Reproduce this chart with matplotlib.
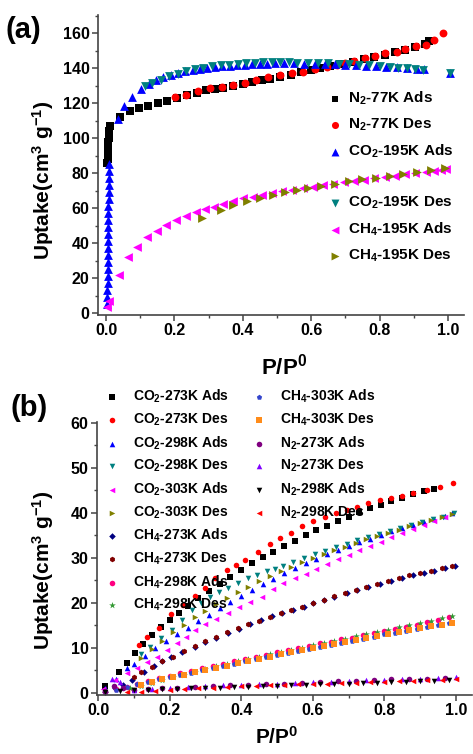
import numpy as np
import matplotlib.pyplot as plt
from matplotlib.ticker import MultipleLocator

plt.rcParams['font.family'] = ['Liberation Sans', 'DejaVu Sans']
plt.rcParams['font.weight'] = 'bold'
plt.rcParams['mathtext.fontset'] = 'custom'
plt.rcParams['mathtext.bf'] = 'Liberation Sans:bold'
plt.rcParams['mathtext.rm'] = 'Liberation Sans:bold'
plt.rcParams['mathtext.default'] = 'bf'

# ---------------- panel (a) data ----------------
n2_77_ads_x = [0.004, 0.005, 0.005, 0.006, 0.006, 0.007, 0.007, 0.008, 0.009, 0.010, 0.012,
               0.041, 0.070, 0.097, 0.124, 0.151, 0.178, 0.207, 0.236, 0.265, 0.292, 0.320,
               0.343, 0.372, 0.400, 0.428, 0.455, 0.480, 0.510, 0.540, 0.570, 0.600, 0.626,
               0.655, 0.685, 0.723, 0.755, 0.785, 0.815, 0.845, 0.874, 0.905, 0.933, 0.945]
n2_77_ads_y = [86, 88, 90, 92, 94, 96, 98, 100, 102, 104, 107,
               112.2, 115.6, 117.3, 118.5, 119.8, 121.3, 122.8, 124.6, 126, 127.4, 128.0,
               128.6, 129.8, 131, 132, 133, 134, 135, 136.3, 137.8, 139, 139.8,
               141, 142.3, 143.6, 145, 146.2, 147.6, 149, 150.5, 152, 153.7, 155.5]

n2_77_des_x = [0.986, 0.959, 0.935, 0.908, 0.874, 0.850, 0.816, 0.787, 0.757, 0.725, 0.700,
               0.675, 0.645, 0.610, 0.577, 0.543, 0.509, 0.475, 0.440, 0.406, 0.372, 0.338,
               0.304, 0.268, 0.233, 0.202]
n2_77_des_y = [159.8, 156, 153, 152.6, 150.7, 149.3, 148.4, 147, 145.5, 144, 142.8,
               141.7, 140.5, 139.2, 137.9, 137.3, 136, 134.7, 133, 131.6, 130.3, 129.3,
               128.4, 127, 124.4, 123.2]

co2_195_ads_x = [0.003, 0.004, 0.004, 0.005, 0.005, 0.005, 0.005, 0.006, 0.006, 0.006, 0.006,
                 0.007, 0.007, 0.007, 0.007, 0.008, 0.008, 0.008, 0.009, 0.009, 0.010,
                 0.036, 0.054, 0.077, 0.101, 0.125, 0.146, 0.168, 0.19, 0.21, 0.232, 0.253,
                 0.275, 0.296, 0.318, 0.34, 0.362, 0.384, 0.406, 0.428, 0.45, 0.472, 0.494,
                 0.52, 0.55, 0.58, 0.61, 0.64, 0.67, 0.70, 0.73, 0.76, 0.79, 0.82, 0.85,
                 0.88, 0.91, 0.93, 1.006]
co2_195_ads_y = [5, 9, 13, 17, 21, 25, 29, 33, 37, 41, 45,
                 49, 53, 57, 61, 65, 69, 73, 77, 81, 85,
                 110.7, 118.3, 123.2, 127.8, 131, 133, 134.8, 136.2, 137.4, 138.3, 139,
                 139.6, 140.1, 140.6, 141, 141.3, 141.6, 141.9, 142.1, 142.3, 142.5, 142.6,
                 142.6, 142.6, 142.5, 142.4, 142.3, 142.1, 141.9, 141.6, 141.4, 141.1, 140.8, 140.5,
                 140.1, 139.6, 139.2, 137.3]

co2_195_des_x = [1.006, 0.928, 0.905, 0.88, 0.855, 0.83, 0.80, 0.77, 0.74, 0.71, 0.68, 0.65,
                 0.62, 0.59, 0.56, 0.535, 0.51, 0.485, 0.46, 0.435, 0.41, 0.385, 0.36, 0.335,
                 0.31, 0.285, 0.26, 0.235, 0.21, 0.185, 0.16, 0.135, 0.114]
co2_195_des_y = [137.3, 138.9, 139.4, 139.8, 140.3, 140.6, 141, 141.5, 141.8, 142.1, 142.4, 142.6,
                 142.8, 143, 143.1, 143.2, 143.3, 143.3, 143.2, 143, 142.8, 142.5, 142, 141.5,
                 140.9, 140.2, 139.3, 138.2, 136.8, 135.2, 133.4, 131.3, 130]

ch4_195_ads_x = [0.002, 0.009, 0.038, 0.065, 0.09, 0.121, 0.148, 0.175, 0.205, 0.233, 0.262,
                 0.289, 0.317, 0.343, 0.37, 0.401, 0.43, 0.455, 0.485, 0.514, 0.543, 0.575,
                 0.605, 0.635, 0.665, 0.695, 0.725, 0.755, 0.785, 0.815, 0.845, 0.875, 0.905,
                 0.935, 0.96, 0.98, 0.995]
ch4_195_ads_y = [3.6, 7, 22, 32.2, 37.5, 43.2, 47, 50.3, 53.1, 55.4, 57.9,
                 59.2, 60.7, 62.3, 63.8, 65.5, 66.5, 67.4, 68.8, 69.9, 70.6, 71.5,
                 72.3, 73.2, 74, 74.8, 75.5, 76.3, 77.1, 77.8, 78.5, 79.2, 80,
                 80.8, 81.4, 81.9, 82.5]

ch4_195_des_x = [0.99, 0.95, 0.91, 0.87, 0.83, 0.79, 0.75, 0.71, 0.67, 0.63, 0.59, 0.56,
                 0.523, 0.487, 0.45, 0.411, 0.372, 0.336, 0.28]
ch4_195_des_y = [82.7, 81.6, 80.5, 79.5, 78.4, 77.4, 76.4, 75.2, 74, 72.8, 71.6, 70.4,
                 69, 67.4, 65.5, 64.2, 61.7, 58.9, 54.1]

# ---------------- panel (b) data ----------------
co2_273_ads_x = [0.02, 0.059, 0.08, 0.103, 0.125, 0.15, 0.175, 0.2, 0.225, 0.25, 0.28, 0.31,
                 0.34, 0.37, 0.4, 0.43, 0.46, 0.49, 0.52, 0.55, 0.58, 0.61, 0.64, 0.67, 0.70,
                 0.73, 0.76, 0.79, 0.82, 0.85, 0.88, 0.91, 0.94]
co2_273_ads_y = [1.5, 4.7, 6.6, 8.9, 10.8, 12.8, 14.6, 16.2, 17.8, 19.3, 21, 22.6,
                 24.2, 25.8, 27.3, 28.8, 30.1, 31.4, 32.6, 33.8, 35, 36.1, 37.2, 38.2, 39.2,
                 40.1, 41, 41.8, 42.6, 43.4, 44.1, 44.8, 45.4]

co2_273_des_x = [0.991, 0.955, 0.92, 0.88, 0.85, 0.82, 0.788, 0.755, 0.725, 0.695, 0.665, 0.635,
                 0.601, 0.57, 0.54, 0.508, 0.48, 0.448, 0.41, 0.385, 0.36, 0.327, 0.299, 0.27,
                 0.238, 0.204, 0.17, 0.136, 0.113]
co2_273_des_y = [46.6, 45.8, 45.1, 44.4, 43.8, 43.3, 42.9, 42.1, 41.4, 40.7, 39.9, 39,
                 38.1, 37, 35.6, 34.4, 33.1, 31.4, 29.6, 28.4, 27.3, 25.5, 23.3, 21.5,
                 19.6, 17.6, 14.5, 12.5, 10.7]

co2_298_ads_x = [0.02, 0.05, 0.08, 0.1, 0.13, 0.16, 0.19, 0.22, 0.25, 0.28, 0.31, 0.34, 0.37,
                 0.4, 0.43, 0.46, 0.49, 0.52, 0.55, 0.58, 0.61, 0.64, 0.67, 0.7, 0.73, 0.76,
                 0.79, 0.82, 0.85, 0.88, 0.91, 0.94, 0.97, 0.99]
co2_298_ads_y = [1, 3, 5.5, 6.5, 8.3, 10, 11.6, 13.1, 14.5, 15.9, 17.3, 18.8, 20.2,
                 21.6, 22.9, 24.2, 25.4, 26.6, 27.7, 28.8, 29.8, 30.8, 31.7, 32.6, 33.5, 34.3,
                 35.1, 35.9, 36.6, 37.3, 38, 38.7, 39.3, 39.9]

co2_298_des_x = [0.995, 0.965, 0.935, 0.905, 0.875, 0.845, 0.815, 0.785, 0.755, 0.725, 0.695,
                 0.665, 0.635, 0.605, 0.575, 0.545, 0.518, 0.495, 0.471, 0.445, 0.42, 0.392,
                 0.364, 0.338, 0.313, 0.288, 0.262, 0.234, 0.206, 0.175, 0.145, 0.12]
co2_298_des_y = [39.9, 39.2, 38.6, 38, 37.3, 36.6, 36, 35.3, 34.6, 33.9, 33.2,
                 32.4, 31.6, 30.8, 30, 29.1, 28.2, 27.6, 27, 26.3, 25.5, 24.4,
                 23.3, 22.4, 21.4, 20, 18.4, 16.3, 14, 12.2, 10.3, 8.6]

co2_303_ads_x = [0.015, 0.047, 0.08, 0.11, 0.137, 0.164, 0.192, 0.22, 0.245, 0.271, 0.3, 0.33,
                 0.364, 0.395, 0.425, 0.457, 0.488, 0.518, 0.55, 0.58, 0.61, 0.64, 0.67, 0.7,
                 0.73, 0.76, 0.79, 0.82, 0.85, 0.88, 0.91, 0.94, 0.97]
co2_303_ads_y = [0.8, 2.9, 4.5, 5.5, 6.8, 8.1, 9.6, 11, 12.5, 14, 15.3, 16.5,
                 17.7, 19, 20.2, 21.4, 23, 24.5, 25.5, 26.5, 27.6, 28.6, 29.7, 30.7,
                 31.7, 32.7, 33.6, 34.6, 35.5, 36.5, 37.4, 38.3, 39.2]

co2_303_des_x = [0.99, 0.96, 0.93, 0.9, 0.87, 0.84, 0.81, 0.78, 0.75, 0.72, 0.69, 0.66, 0.63,
                 0.6, 0.57, 0.54, 0.51, 0.48, 0.45, 0.42, 0.39, 0.36, 0.33, 0.3, 0.27, 0.24,
                 0.21, 0.18, 0.15, 0.12]
co2_303_des_y = [39.8, 39.1, 38.4, 37.7, 37, 36.3, 35.6, 34.9, 34.1, 33.3, 32.5, 31.7, 30.8,
                 29.9, 29, 28, 27, 25.9, 24.8, 23.6, 22.4, 21.1, 19.8, 18.3, 16.8, 15.2,
                 13.5, 11.6, 9.7, 7.7]

ch4_273_ads_x = [0.02, 0.047, 0.07, 0.094, 0.127, 0.155, 0.178, 0.205, 0.235, 0.271, 0.3, 0.33,
                 0.364, 0.395, 0.425, 0.455, 0.485, 0.513, 0.545, 0.575, 0.601, 0.63, 0.66,
                 0.695, 0.725, 0.755, 0.788, 0.82, 0.85, 0.88, 0.91, 0.94, 0.97, 0.997]
ch4_273_ads_y = [0.3, 1.0, 1.8, 2.8, 4.7, 6.0, 7.1, 8.0, 9.0, 10.3, 11.3, 12.2,
                 13.3, 14.3, 15.3, 16.2, 17, 17.8, 18.5, 19.2, 19.9, 20.6, 21.3,
                 22.1, 22.8, 23.6, 24.3, 24.9, 25.5, 26.1, 26.7, 27.2, 27.7, 28.2]

ch4_273_des_x = [0.99, 0.96, 0.93, 0.9, 0.87, 0.84, 0.81, 0.78, 0.75, 0.72, 0.69, 0.66, 0.63,
                 0.6, 0.57, 0.54, 0.51, 0.48, 0.45, 0.42, 0.39, 0.36, 0.33, 0.3, 0.27, 0.24,
                 0.21, 0.18, 0.15, 0.12, 0.1]
ch4_273_des_y = [28.3, 27.8, 27.2, 26.6, 26.1, 25.5, 24.9, 24.2, 23.6, 22.9, 22.2, 21.5, 20.7,
                 20, 19.2, 18.4, 17.7, 16.9, 16.1, 15.3, 14.4, 13.5, 12.5, 11.5, 10.4, 9.3,
                 8.1, 7.0, 5.8, 4.6, 3.6]

ch4_298_ads_x = [0.02, 0.05, 0.08, 0.11, 0.14, 0.17, 0.2, 0.23, 0.26, 0.29, 0.32, 0.35, 0.38,
                 0.41, 0.44, 0.47, 0.5, 0.53, 0.56, 0.59, 0.62, 0.65, 0.68, 0.71, 0.74, 0.77,
                 0.8, 0.83, 0.86, 0.89, 0.92, 0.95, 0.98]
ch4_298_ads_y = [0.3, 0.8, 1.4, 2.1, 2.7, 3.3, 3.8, 4.4, 4.9, 5.5, 6, 6.5, 7,
                 7.5, 8, 8.5, 9.1, 9.5, 10, 10.5, 11, 11.4, 11.9, 12.3, 12.8, 13.3,
                 13.8, 14.2, 14.7, 15.2, 15.7, 16.2, 16.8]

ch4_298_des_x = [0.99, 0.96, 0.93, 0.9, 0.87, 0.84, 0.81, 0.78, 0.75, 0.72, 0.69, 0.66, 0.63,
                 0.6, 0.57, 0.54, 0.51, 0.48, 0.45, 0.42, 0.39, 0.36, 0.33, 0.3, 0.27, 0.24,
                 0.21, 0.18, 0.15, 0.12, 0.09]
ch4_298_des_y = [17.1, 16.6, 16.1, 15.6, 15.1, 14.6, 14.1, 13.6, 13.1, 12.6, 12.1, 11.6, 11.1,
                 10.6, 10.1, 9.6, 9.1, 8.6, 8.1, 7.6, 7, 6.5, 5.9, 5.3, 4.7, 4.1,
                 3.5, 2.9, 2.3, 1.6, 1]

ch4_303_ads_x = [0.02, 0.05, 0.08, 0.11, 0.14, 0.17, 0.2, 0.23, 0.26, 0.29, 0.32, 0.35, 0.38,
                 0.41, 0.44, 0.47, 0.5, 0.53, 0.56, 0.59, 0.62, 0.65, 0.68, 0.71, 0.74, 0.77,
                 0.8, 0.83, 0.86, 0.89, 0.92, 0.95, 0.98]
ch4_303_ads_y = [0.2, 0.7, 1.3, 1.9, 2.5, 3, 3.5, 4, 4.5, 5, 5.5, 6, 6.5,
                 7, 7.5, 8, 8.5, 8.9, 9.4, 9.8, 10.3, 10.7, 11.2, 11.6, 12.1, 12.5,
                 13, 13.4, 13.8, 14.3, 14.7, 15.1, 15.5]

ch4_303_des_x = [0.99, 0.96, 0.93, 0.9, 0.87, 0.84, 0.81, 0.78, 0.75, 0.72, 0.69, 0.66, 0.63,
                 0.6, 0.57, 0.54, 0.51, 0.48, 0.45, 0.42, 0.39, 0.36, 0.33, 0.3, 0.27, 0.24,
                 0.21, 0.18, 0.15, 0.12]
ch4_303_des_y = [15.6, 15.2, 14.8, 14.4, 13.9, 13.5, 13.1, 12.6, 12.2, 11.7, 11.3, 10.8, 10.4,
                 9.9, 9.5, 9, 8.6, 8.1, 7.6, 7.1, 6.6, 6.1, 5.6, 5.1, 4.6, 4.1,
                 3.6, 3, 2.4, 1.8]

n2_273_ads_x = [0.02, 0.045, 0.07, 0.1, 0.14, 0.18, 0.22, 0.27, 0.32, 0.37, 0.42, 0.47, 0.52,
                0.57, 0.62, 0.67, 0.72, 0.77, 0.82, 0.87, 0.92, 0.97]
n2_273_ads_y = [0.5, 1.5, 1, 0.6, 0.8, 1, 1.2, 1.4, 1.5, 1.7, 1.8, 2, 2.1,
                2.3, 2.4, 2.6, 2.7, 2.9, 3, 3.1, 3.2, 3.4]

n2_273_des_x = [1.0, 0.95, 0.9, 0.85, 0.8, 0.75, 0.7, 0.65, 0.6, 0.55, 0.5, 0.45, 0.4, 0.35,
                0.3, 0.25, 0.2, 0.15, 0.1, 0.06, 0.04]
n2_273_des_y = [3.5, 3.3, 3.2, 3, 2.9, 2.8, 2.6, 2.5, 2.4, 2.3, 2.1, 2, 1.8, 1.7,
                1.5, 1.3, 1.1, 0.9, 0.7, 2.5, 3]

n2_298_ads_x = [0.02, 0.06, 0.1, 0.14, 0.18, 0.22, 0.26, 0.3, 0.34, 0.38, 0.42, 0.46, 0.5,
                0.54, 0.58, 0.62, 0.66, 0.7, 0.74, 0.78, 0.82, 0.86, 0.9, 0.94, 0.98]
n2_298_ads_y = [0.3, 0.4, 0.6, 0.7, 0.8, 0.9, 1, 1.1, 1.2, 1.3, 1.4, 1.5, 1.6,
                1.7, 1.8, 1.9, 2, 2.1, 2.2, 2.3, 2.4, 2.5, 2.6, 2.7, 2.8]

n2_298_des_x = [1.0, 0.96, 0.92, 0.88, 0.84, 0.8, 0.76, 0.72, 0.68, 0.64, 0.6, 0.56, 0.52,
                0.48, 0.44, 0.4, 0.36, 0.32, 0.28, 0.24, 0.2, 0.16, 0.12, 0.08]
n2_298_des_y = [3, 2.9, 2.8, 2.7, 2.6, 2.5, 2.4, 2.3, 2.2, 2.1, 2, 1.9, 1.8,
                1.7, 1.6, 1.5, 1.3, 1.2, 1.1, 0.9, 0.7, 0.5, 0.3, 0.2]


W, H = 473, 754
fig = plt.figure(figsize=(W / 100, H / 100), dpi=100)


def style_axes(ax):
    for s in ['top', 'right']:
        ax.spines[s].set_visible(False)
    for s in ['left', 'bottom']:
        ax.spines[s].set_color('#444444')
        ax.spines[s].set_linewidth(1.2)
    ax.tick_params(which='major', direction='out', length=4, width=1.1,
                   color='#444444', labelsize=11.5, pad=2)
    ax.tick_params(which='minor', direction='out', length=2.5, width=1.0, color='#444444')
    for lab in ax.get_xticklabels() + ax.get_yticklabels():
        lab.set_fontweight('bold')
    ax.xaxis.set_major_locator(MultipleLocator(0.2))
    ax.xaxis.set_minor_locator(MultipleLocator(0.1))
    ax.xaxis.set_major_formatter(plt.FuncFormatter(lambda v, p: f'{v:.1f}'))


ylab = r'Uptake(cm$^3$ g$^{-1}$)'

# ---------------- panel (a) ----------------
ax_a = fig.add_axes([98 / W, 1 - 315 / H, (464 - 98) / W, (315 - 15) / H])
sa = 26
ax_a.scatter(n2_77_ads_x, n2_77_ads_y, marker='s', s=sa, color='black', lw=0, label=r'N$_2$-77K Ads')
ax_a.scatter(n2_77_des_x, n2_77_des_y, marker='o', s=sa + 6, color='#FF0000', lw=0, label=r'N$_2$-77K Des')
ax_a.scatter(co2_195_ads_x, co2_195_ads_y, marker='^', s=sa + 14, color='#0000FF', lw=0, label=r'CO$_2$-195K Ads')
ax_a.scatter(co2_195_des_x, co2_195_des_y, marker='v', s=sa + 14, color='#008080', lw=0, label=r'CO$_2$-195K Des')
ax_a.scatter(ch4_195_ads_x, ch4_195_ads_y, marker='<', s=sa + 14, color='#FF00FF', lw=0, label=r'CH$_4$-195K Ads')
ax_a.scatter(ch4_195_des_x, ch4_195_des_y, marker='>', s=sa + 14, color='#808000', lw=0, label=r'CH$_4$-195K Des')
ax_a.set_xlim(-0.0234, 1.047)
ax_a.set_ylim(-1.1, 170.3)
ax_a.yaxis.set_major_locator(MultipleLocator(20))
ax_a.yaxis.set_minor_locator(MultipleLocator(10))
style_axes(ax_a)
ax_a.set_xlabel(r'P/P$^0$', fontsize=16, fontweight='bold')
ax_a.xaxis.set_label_coords((284 - 98) / 366, -(367 - 315) / 300)
ax_a.xaxis.label.set_va('center')
ax_a.set_ylabel(ylab, fontsize=15, fontweight='bold')
ax_a.yaxis.set_label_coords(-(98 - 43) / 366, (315 - 180) / 300)
ax_a.yaxis.label.set_va('center')

h, l = ax_a.get_legend_handles_labels()
leg_kw = dict(frameon=False, handlelength=0.6, handletextpad=0.6,
              borderpad=0, borderaxespad=0, labelspacing=0.62, markerscale=0.9,
              prop={'weight': 'bold', 'size': 11})
fig.legend(h[:3], l[:3], loc='upper left', bbox_to_anchor=(330 / W, 1 - 90 / H), **leg_kw)
fig.legend(h[3:], l[3:], loc='upper left', bbox_to_anchor=(330 / W, 1 - 195 / H), **leg_kw)

fig.text(5 / W, 1 - 30 / H, '(a)', fontsize=21, fontweight='bold', va='center', ha='left')

# ---------------- panel (b) ----------------
ax_b = fig.add_axes([97 / W, 1 - 695 / H, (472 - 97) / W, (695 - 422) / H])
sb = 16
series_b = [
    (co2_273_ads_x, co2_273_ads_y, 's', 'black', r'CO$_2$-273K Ads'),
    (co2_273_des_x, co2_273_des_y, 'o', '#FF0000', r'CO$_2$-273K Des'),
    (co2_298_ads_x, co2_298_ads_y, '^', '#0000FF', r'CO$_2$-298K Ads'),
    (co2_298_des_x, co2_298_des_y, 'v', '#008080', r'CO$_2$-298K Des'),
    (co2_303_ads_x, co2_303_ads_y, '<', '#FF00FF', r'CO$_2$-303K Ads'),
    (co2_303_des_x, co2_303_des_y, '>', '#808000', r'CO$_2$-303K Des'),
    (ch4_273_ads_x, ch4_273_ads_y, 'D', '#000080', r'CH$_4$-273K Ads'),
    (ch4_273_des_x, ch4_273_des_y, 'h', '#800000', r'CH$_4$-273K Des'),
    (ch4_298_ads_x, ch4_298_ads_y, 'o', '#FF0080', r'CH$_4$-298K Ads'),
    (ch4_298_des_x, ch4_298_des_y, '*', '#339933', r'CH$_4$-298K Des'),
    (ch4_303_ads_x, ch4_303_ads_y, 'p', '#3344CC', r'CH$_4$-303K Ads'),
    (ch4_303_des_x, ch4_303_des_y, 's', '#FF8C1A', r'CH$_4$-303K Des'),
    (n2_273_ads_x, n2_273_ads_y, 'o', '#800080', r'N$_2$-273K Ads'),
    (n2_273_des_x, n2_273_des_y, '^', '#8000FF', r'N$_2$-273K Des'),
    (n2_298_ads_x, n2_298_ads_y, 'v', 'black', r'N$_2$-298K Ads'),
    (n2_298_des_x, n2_298_des_y, '<', '#FF0000', r'N$_2$-298K Des'),
]
for x, y, m, c, lab in series_b:
    size = sb * 0.7 if m == 'D' else (sb * 1.6 if m == '*' else sb)
    ax_b.scatter(x, y, marker=m, s=size, color=c, lw=0, label=lab)
ax_b.set_xlim(-0.003, 1.045)
ax_b.set_ylim(-0.45, 60.2)
ax_b.yaxis.set_major_locator(MultipleLocator(10))
ax_b.yaxis.set_minor_locator(MultipleLocator(5))
style_axes(ax_b)
ax_b.set_xlabel(r'P/P$^0$', fontsize=15, fontweight='bold')
ax_b.xaxis.set_label_coords((277 - 97) / 375, -(737 - 695) / 273)
ax_b.xaxis.label.set_va('center')
ax_b.set_ylabel(ylab, fontsize=15, fontweight='bold')
ax_b.yaxis.set_label_coords(-(97 - 43) / 375, (695 - 570) / 273)
ax_b.yaxis.label.set_va('center')

hb, lb = ax_b.get_legend_handles_labels()
leg_b = dict(frameon=False, handlelength=0.6, handletextpad=1.2, borderpad=0,
             borderaxespad=0, labelspacing=0.45, markerscale=1.0,
             prop={'weight': 'bold', 'size': 10})
fig.legend(hb[:10], lb[:10], loc='upper left', bbox_to_anchor=(108 / W, 1 - 388 / H), **leg_b)
fig.legend(hb[10:], lb[10:], loc='upper left', bbox_to_anchor=(255 / W, 1 - 388 / H), **leg_b)

fig.text(10 / W, 1 - 408 / H, '(b)', fontsize=21, fontweight='bold', va='center', ha='left')

fig.savefig('out.png', dpi=100)
